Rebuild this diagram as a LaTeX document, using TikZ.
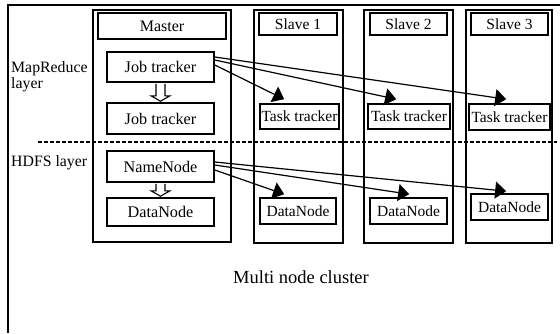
\documentclass[tikz,border=0pt]{standalone}
\usepackage{fontspec}
\setmainfont{Liberation Serif}
\usetikzlibrary{arrows.meta,calc}
\begin{document}
\begin{tikzpicture}[x=1pt,y=-1pt,
  frame/.style={draw,line width=1.8pt},
  group/.style={draw,line width=1.6pt},
  box/.style={draw,line width=1.6pt,inner sep=0pt,font=\fontsize{15.5}{18}\selectfont},
  label/.style={box,minimum height=24pt},
  comp/.style={box,minimum height=30pt,minimum width=107pt,font=\fontsize{16.2}{18}\selectfont},
  sbox/.style={box,minimum height=26pt},
  link/.style={line width=1.2pt,-{Triangle[length=11pt,width=17pt]}},
  hollow/.style={line width=1.1pt,fill=white},
  txt/.style={inner sep=0pt,anchor=west,font=\fontsize{15.8}{18}\selectfont,align=left}]
\useasboundingbox (0,0) rectangle (560,333);

% outer cluster frame
\draw[frame] (8,333) -- (8,5) -- (560,5);

% machines
\draw[group] (93,10) rectangle (231,242);
\draw[group] (254,10) rectangle (343,243);
\draw[group] (364,10) rectangle (453,243);
\draw[group] (466,10) rectangle (552,243);

% layer separator
\draw[line width=1.4pt,dash pattern=on 4pt off 2pt] (38,142) -- (557,142);

% master
\node[label,minimum width=128pt,minimum height=26pt,font=\fontsize{16}{18}\selectfont] (master) at (162,26) {Master};
\node[comp] (jt1) at (160.5,67) {Job tracker};
\node[comp,minimum height=31pt] (jt2) at (160.5,118.5) {Job tracker};
\node[comp,minimum height=31pt] (nn) at (160.5,166.5) {NameNode};
\node[comp,minimum height=28pt] (dn0) at (160.5,212) {DataNode};

% slaves
\node[label,minimum width=78pt,minimum height=22pt] (s1) at (298,24) {Slave 1};
\node[label,minimum width=77pt,minimum height=22pt] (s2) at (408.5,24) {Slave 2};
\node[label,minimum width=77pt,minimum height=22pt] (s3) at (509.5,24) {Slave 3};

\node[sbox,minimum width=79pt,minimum height=25pt] (tt1) at (299.5,116.5) {Task tracker};
\node[sbox,minimum width=82pt,minimum height=25pt] (tt2) at (409,116.5) {Task tracker};
\node[sbox,minimum width=81pt] (tt3) at (509.5,117) {Task tracker};

\node[sbox,minimum width=76pt] (dn1) at (298,211) {DataNode};
\node[sbox,minimum width=77pt] (dn2) at (408.5,211) {DataNode};
\node[sbox,minimum width=77pt] (dn3) at (509.5,207) {DataNode};

% layer labels
\node[txt] (mr) at (11,77) {MapReduce\\[-2pt]layer};
\node[txt] (hdfs) at (11,163) {HDFS layer};
\node[inner sep=0pt,font=\fontsize{18.5}{22}\selectfont] (cluster) at (301,277) {Multi node cluster};

% job tracker to task trackers
\draw[link] ([yshift=10pt]jt1.east) -- ([xshift=38pt,yshift=4pt]tt3.north west);
\draw[link] ([yshift=7pt]jt1.east) -- ([xshift=29pt,yshift=4pt]tt2.north west);
\draw[link] ([yshift=2pt]jt1.east) -- ([xshift=25pt,yshift=4pt]tt1.north west);

% name node to data nodes
\draw[link] ([yshift=4.5pt]nn.east) -- ([xshift=36pt,yshift=2pt]dn3.north west);
\draw[link] ([yshift=1.5pt]nn.east) -- ([xshift=40pt,yshift=3pt]dn2.north west);
\draw[link] ([yshift=-3.5pt]nn.east) -- ([xshift=25pt,yshift=3pt]dn1.north west);

% hollow arrows inside the master
\draw[hollow] ($(jt1.south)+(-4.5,1)$) -- ($(jt1.south)+(-4.5,13)$) -- ($(jt1.south)+(-9.5,13)$)
  -- ($(jt2.north)+(0,-1)$) -- ($(jt1.south)+(9.5,13)$) -- ($(jt1.south)+(4.5,13)$) -- ($(jt1.south)+(4.5,1)$);
\draw[hollow] ($(nn.south)+(-4.5,1)$) -- ($(nn.south)+(-4.5,8)$) -- ($(nn.south)+(-9.5,8)$)
  -- ($(dn0.north)+(0,-1)$) -- ($(nn.south)+(9.5,8)$) -- ($(nn.south)+(4.5,8)$) -- ($(nn.south)+(4.5,1)$);
\end{tikzpicture}
\end{document}
